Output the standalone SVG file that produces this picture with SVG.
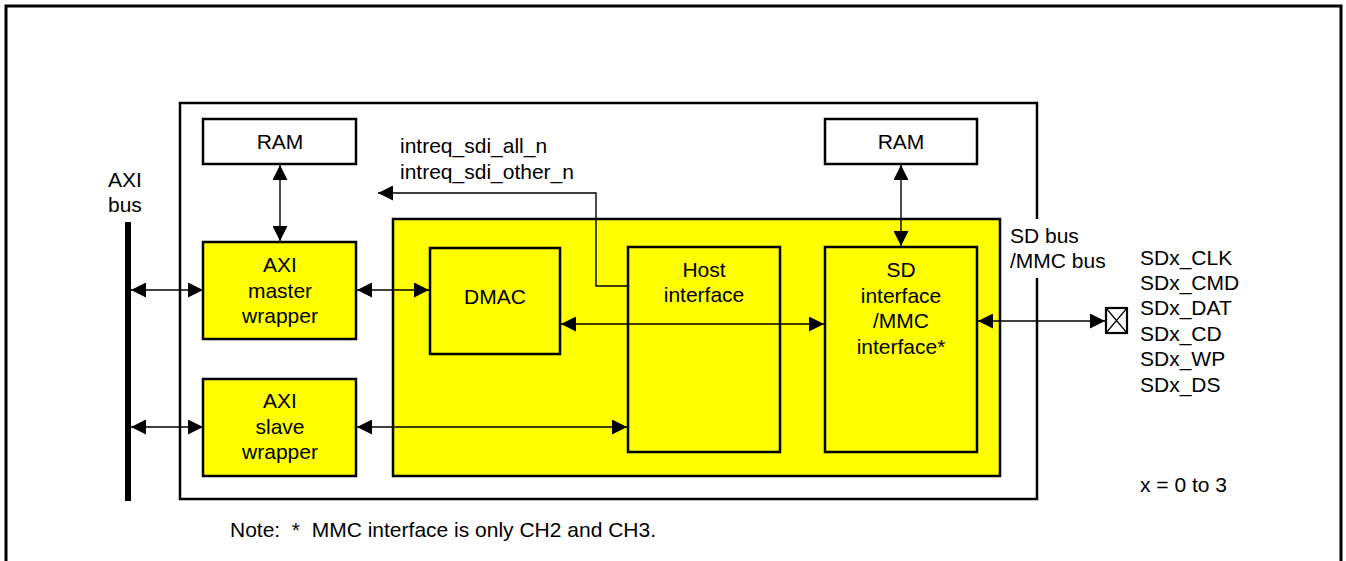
<svg xmlns="http://www.w3.org/2000/svg" width="1346" height="561" viewBox="0 0 1346 561">
<style>
text{font-family:"Liberation Sans",Arial,sans-serif;font-size:21px;fill:#000}
.c{text-anchor:middle}
.box{fill:#fff;stroke:#000;stroke-width:2.5}
.ybox{fill:#ffff00;stroke:#000;stroke-width:2.5}
.ln{fill:none;stroke:#000;stroke-width:1.4}
.frame{fill:none;stroke:#000;stroke-width:2.5}
</style>
<defs>
<marker id="ah" markerUnits="userSpaceOnUse" markerWidth="15" markerHeight="15" refX="15" refY="7.5" orient="auto-start-reverse" viewBox="0 0 15 15">
<path d="M0,0 L15,7.5 L0,15 z" fill="#000"/>
</marker>
</defs>
<rect width="1346" height="561" fill="#fff"/>
<g id="outer-frame">
<path d="M6,561 V6 H1341 V561" fill="none" stroke="#000" stroke-width="3"/>
</g>
<g id="block-frame">
<path class="frame" d="M1037,219 V103 H180 V499 H1037 V278"/>
<text x="1010" y="243">SD bus</text>
<text x="1010" y="268">/MMC bus</text>
</g>
<g id="axi-bus">
<line x1="128" y1="222" x2="128" y2="501" stroke="#000" stroke-width="6"/>
<text x="108" y="187">AXI</text>
<text x="108" y="212">bus</text>
</g>
<g id="ram-left">
<rect class="box" x="203" y="119" width="153" height="45"/>
<text class="c" x="280" y="149">RAM</text>
</g>
<g id="ram-right">
<rect class="box" x="825" y="119" width="152" height="45"/>
<text class="c" x="901" y="149">RAM</text>
</g>
<g id="axi-master">
<rect class="ybox" x="203" y="242" width="153" height="97"/>
<text class="c" x="280" y="272">AXI</text>
<text class="c" x="280" y="298">master</text>
<text class="c" x="280" y="323">wrapper</text>
</g>
<g id="axi-slave">
<rect class="ybox" x="203" y="379" width="153" height="97"/>
<text class="c" x="280" y="408">AXI</text>
<text class="c" x="280" y="434">slave</text>
<text class="c" x="280" y="459">wrapper</text>
</g>
<g id="sd-core">
<rect class="ybox" x="393" y="219" width="607" height="257"/>
</g>
<g id="dmac">
<rect class="ybox" x="430" y="248" width="130" height="106"/>
<text class="c" x="495" y="304">DMAC</text>
</g>
<g id="host-interface">
<rect class="ybox" x="628" y="247" width="152" height="205"/>
<text class="c" x="704" y="277">Host</text>
<text class="c" x="704" y="302">interface</text>
</g>
<g id="sd-interface">
<rect class="ybox" x="825" y="247" width="152" height="205"/>
<text class="c" x="901" y="277">SD</text>
<text class="c" x="901" y="303">interface</text>
<text class="c" x="901" y="328">/MMC</text>
<text class="c" x="901" y="354">interface*</text>
</g>
<g id="pin">
<rect x="1106" y="308" width="21" height="25" fill="#fff" stroke="#000" stroke-width="2.2"/>
<path d="M1106,308 L1127,333 M1127,308 L1106,333" stroke="#000" stroke-width="1.2"/>
</g>
<g id="connectors">
<line class="ln" x1="131" y1="290" x2="203" y2="290" marker-start="url(#ah)" marker-end="url(#ah)"/>
<line class="ln" x1="131" y1="427" x2="203" y2="427" marker-start="url(#ah)" marker-end="url(#ah)"/>
<line class="ln" x1="280" y1="165" x2="280" y2="241" marker-start="url(#ah)" marker-end="url(#ah)"/>
<line class="ln" x1="901" y1="165" x2="901" y2="246" marker-start="url(#ah)" marker-end="url(#ah)"/>
<line class="ln" x1="357" y1="290" x2="429" y2="290" marker-start="url(#ah)" marker-end="url(#ah)"/>
<line class="ln" x1="357" y1="427" x2="627" y2="427" marker-start="url(#ah)" marker-end="url(#ah)"/>
<line class="ln" x1="561" y1="324" x2="824" y2="324" marker-start="url(#ah)" marker-end="url(#ah)"/>
<line class="ln" x1="978" y1="321" x2="1105" y2="321" marker-start="url(#ah)" marker-end="url(#ah)"/>
<polyline class="ln" points="628,286 596,286 596,193 378,193" marker-end="url(#ah)"/>
</g>
<g id="labels">
<text x="400" y="153">intreq_sdi_all_n</text>
<text x="400" y="179">intreq_sdi_other_n</text>
<text x="1140" y="265">SDx_CLK</text>
<text x="1140" y="290">SDx_CMD</text>
<text x="1140" y="315">SDx_DAT</text>
<text x="1140" y="341">SDx_CD</text>
<text x="1140" y="366">SDx_WP</text>
<text x="1140" y="392">SDx_DS</text>
<text x="1140" y="492">x = 0 to 3</text>
<text x="230" y="537" xml:space="preserve">Note:  *  MMC interface is only CH2 and CH3.</text>
</g>
</svg>
